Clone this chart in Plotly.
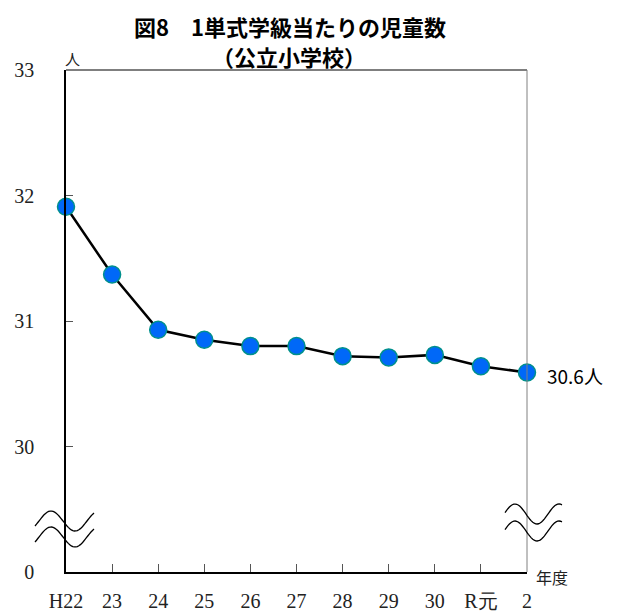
import numpy as np
import plotly.graph_objects as go

# data
years = ["H22", "23", "24", "25", "26", "27", "28", "29", "30", "R元", "2"]
pupils = [31.91, 31.37, 30.93, 30.85, 30.80, 30.80, 30.72, 30.71, 30.73, 30.64, 30.59]
y_tickvals = [29, 30, 31, 32, 33]
y_ticktext = ["0", "30", "31", "32", "33"]
last_label = "30.6人"

# the page body adds an 8px margin, so the figure is 8px smaller than the window
OFF = 8
W, H = 617 - OFF, 615 - OFF
L, R, T, B = 66 - OFF, 90, 70 - OFF, 43
PW, PH = W - L - R, H - T - B

JP = "Noto Sans CJK JP"
SERIF = "Liberation Serif, DejaVu Serif, serif"


def to_paper(px, py):
    # px, py are window pixel positions
    return (px - OFF - L) / PW, (H - B - (py - OFF)) / PH


def wave_path(x0, x1, peak_x, period, yc, amp, n=40):
    # wavy break mark, built in pixel space then mapped to paper space
    xs = np.linspace(x0, x1, n)
    ys = yc - amp * np.sin(np.pi / 2 + 2 * np.pi * (xs - peak_x) / period)
    pts = [to_paper(x, y) for x, y in zip(xs, ys)]
    return "M " + " L ".join(f"{a:.4f},{b:.4f}" for a, b in pts)


x = list(range(len(years)))

fig = go.Figure()
fig.add_trace(go.Scatter(
    x=x, y=pupils,
    mode="lines+markers",
    line=dict(color="black", width=2.5),
    marker=dict(size=17, color="#0068F8", line=dict(color="#00908C", width=1.5)),
    cliponaxis=False,
    showlegend=False,
))

shapes = []
# top and right frame lines
shapes.append(dict(type="line", xref="paper", yref="paper", x0=0, x1=1, y0=1, y1=1,
                   line=dict(color="black", width=1.2)))
shapes.append(dict(type="line", xref="paper", yref="paper", x0=1, x1=1, y0=0, y1=1,
                   line=dict(color="#808080", width=1)))
# break marks
for yc in (521, 537):
    shapes.append(dict(type="path", xref="paper", yref="paper",
                       path=wave_path(35, 94, 51, 48, yc, 10),
                       line=dict(color="black", width=1.3)))
for yc in (514, 531):
    shapes.append(dict(type="path", xref="paper", yref="paper",
                       path=wave_path(505, 562, 515, 44, yc, 10),
                       line=dict(color="black", width=1.3)))

annotations = [
    dict(text="<b>図8　1単式学級当たりの児童数</b>", xref="paper", yref="paper",
         x=to_paper(290, 0)[0], y=to_paper(0, 26)[1], showarrow=False, borderpad=0,
         font=dict(family=JP, size=22, color="black"), xanchor="center", yanchor="middle"),
    dict(text="<b>（公立小学校）</b>", xref="paper", yref="paper",
         x=to_paper(289, 0)[0], y=to_paper(0, 56)[1], showarrow=False, borderpad=0,
         font=dict(family=JP, size=22, color="black"), xanchor="center", yanchor="middle"),
    dict(text="人", xref="paper", yref="paper",
         x=to_paper(72, 0)[0], y=to_paper(0, 58)[1], showarrow=False,
         font=dict(family=JP, size=15, color="#222"), xanchor="center", yanchor="middle"),
    dict(text="年度", xref="paper", yref="paper",
         x=to_paper(552, 0)[0], y=to_paper(0, 577)[1], showarrow=False,
         font=dict(family=JP, size=16, color="#222"), xanchor="center", yanchor="middle"),
    dict(text=last_label, x=x[-1], y=pupils[-1], showarrow=False,
         xanchor="left", yanchor="middle", xshift=18, yshift=-3,
         font=dict(family=JP, size=19, color="black")),
]

fig.update_layout(
    width=W, height=H,
    margin=dict(l=L, r=R, t=T, b=B, autoexpand=False),
    paper_bgcolor="white", plot_bgcolor="white",
    shapes=shapes,
    annotations=annotations,
)

fig.update_xaxes(
    range=[0, len(years) - 1],
    tickmode="array", tickvals=x, ticktext=years,
    ticks="inside", ticklen=8, tickcolor="#555", tickwidth=1,
    showline=True, linecolor="black", linewidth=1.5,
    showgrid=False, zeroline=False, automargin=False,
    tickfont=dict(family=SERIF, size=20, color="#222"),
    ticklabelstandoff=10,
)
fig.update_yaxes(
    range=[29, 33],
    tickmode="array", tickvals=y_tickvals, ticktext=y_ticktext,
    ticks="inside", ticklen=7, tickcolor="#555", tickwidth=1,
    showline=True, linecolor="black", linewidth=1.5,
    showgrid=False, zeroline=False, automargin=False,
    tickfont=dict(family=SERIF, size=20, color="#222"),
    ticklabelstandoff=26,
)

fig.write_html("out.html")
